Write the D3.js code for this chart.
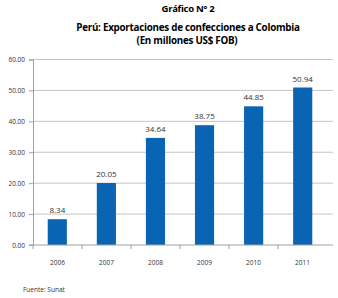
<!DOCTYPE html>
<html>
<head>
<meta charset="utf-8">
<script src="https://cdn.jsdelivr.net/npm/d3@7"></script>
<style>
  body { margin: 0; background: #fff; }
  text { font-family: "Open Sans", "Noto Sans", sans-serif; }
</style>
</head>
<body>
<svg id="chart" width="338" height="298"></svg>
<script>
// chart data
var years = ["2006", "2007", "2008", "2009", "2010", "2011"];
var values = [8.34, 20.05, 34.64, 38.75, 44.85, 50.94];
var yTicks = [0, 10, 20, 30, 40, 50, 60];

var svg = d3.select("#chart");

var plotLeft = 33, plotRight = 327, gridRight = 333;
var plotTop = 59.5, plotBottom = 245;

var x = d3.scaleBand().domain(years).range([plotLeft, plotRight]).paddingInner(0.61).paddingOuter(0.3);
var y = d3.scaleLinear().domain([0, 60]).range([plotBottom, plotTop]);

// titles
svg.append("text").attr("x", 188).attr("y", 12)
  .attr("text-anchor", "middle").style("font-size", "9.5px").style("font-weight", "bold")
  .style("letter-spacing", "-0.3px")
  .text("Gráfico N° 2");
svg.append("text").attr("x", 188).attr("y", 30.5)
  .attr("text-anchor", "middle").style("font-size", "9.8px").style("font-weight", "bold")
  .style("letter-spacing", "-0.25px")
  .text("Perú: Exportaciones de confecciones a Colombia");
svg.append("text").attr("x", 187).attr("y", 43.5)
  .attr("text-anchor", "middle").style("font-size", "9.8px").style("font-weight", "bold")
  .style("letter-spacing", "-0.25px")
  .text("(En millones US$ FOB)");

// gridlines
svg.append("g").selectAll("line").data(yTicks.slice(1)).enter().append("line")
  .attr("x1", plotLeft).attr("x2", gridRight)
  .attr("y1", function(d){ return y(d); }).attr("y2", function(d){ return y(d); })
  .style("stroke", "#c4c4c4").style("stroke-width", 1);

// y axis
var yAxis = d3.axisLeft(y).tickValues(yTicks).tickFormat(d3.format(".2f")).tickSize(4).tickPadding(4);
var gy = svg.append("g").attr("transform", "translate(" + plotLeft + ",0)").call(yAxis);
gy.select(".domain").style("stroke", "#a0a0a0");
gy.selectAll(".tick line").style("stroke", "#a0a0a0");
gy.selectAll("text").style("font-size", "6.5px").style("fill", "#333")
  .style("font-family", "'Open Sans', sans-serif");

// bars
svg.append("g").selectAll("rect").data(values).enter().append("rect")
  .attr("x", function(d, i){ return x(years[i]); })
  .attr("width", x.bandwidth())
  .attr("y", function(d){ return y(d); })
  .attr("height", function(d){ return plotBottom - y(d); })
  .style("fill", "#0a64b4");

// value labels
svg.append("g").selectAll("text").data(values).enter().append("text")
  .attr("x", function(d, i){ return x(years[i]) + x.bandwidth() / 2; })
  .attr("y", function(d){ return y(d) - 6; })
  .attr("text-anchor", "middle").style("font-size", "8px").style("fill", "#333")
  .text(function(d){ return d.toFixed(2); });

// x axis
var xBand = d3.scaleBand().domain(years).range([plotLeft, plotRight]);
var gx = svg.append("g").attr("transform", "translate(0," + plotBottom + ")");
gx.append("line").attr("x1", plotLeft - 4).attr("x2", gridRight).style("stroke", "#a0a0a0");
gx.selectAll(".tk").data(years).enter().append("line")
  .attr("x1", function(d){ return xBand(d); }).attr("x2", function(d){ return xBand(d); })
  .attr("y1", 0).attr("y2", 4).style("stroke", "#a0a0a0");
gx.selectAll(".lbl").data(years).enter().append("text")
  .attr("x", function(d){ return xBand(d) + xBand.bandwidth() / 2; })
  .attr("y", 20).attr("text-anchor", "middle")
  .style("font-size", "6.5px").style("fill", "#333")
  .text(function(d){ return d; });

// source
svg.append("text").attr("x", 23).attr("y", 292).style("font-size", "6.5px").style("fill", "#333")
  .text("Fuente: Sunat");
</script>
</body>
</html>
